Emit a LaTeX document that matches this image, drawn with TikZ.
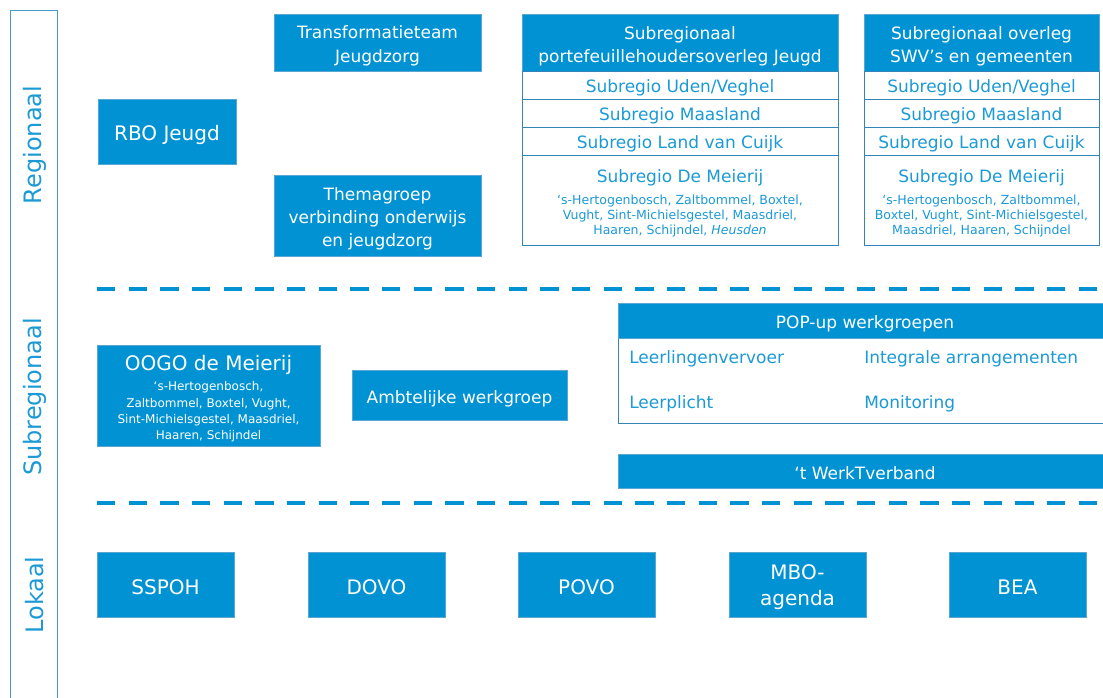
\documentclass[tikz,border=0pt]{standalone}
\usepackage{fontspec}
\setmainfont{DejaVu Sans}
\definecolor{boxblue}{HTML}{0092D3}
\definecolor{boxedge}{HTML}{5AA6D2}
\definecolor{txtblue}{HTML}{1C9AD6}
\definecolor{celledge}{HTML}{3384B8}
\definecolor{framec}{HTML}{4A98C8}
\newcommand\szTitle{\fontsize{15}{18}\selectfont}
\newcommand\szBody{\fontsize{12.75}{17.25}\selectfont}
\newcommand\szBodyT{\fontsize{12.75}{18}\selectfont}
\newcommand\szBodyC{\fontsize{12.75}{17}\selectfont}
\newcommand\szSmall{\fontsize{9.4}{11.25}\selectfont}
\newcommand\szSmallB{\fontsize{9}{12.2}\selectfont}
\newcommand\szSide{\fontsize{18}{22}\selectfont}
\newcommand\szMbo{\fontsize{15}{19.5}\selectfont}
\tikzset{
  bluebox/.style={fill=boxblue, draw=boxedge, line width=0.75pt, inner sep=0pt},
  whitecell/.style={fill=white, draw=celledge, line width=0.75pt, inner sep=0pt},
  txt/.style={inner sep=0pt, align=center},
  wtxt/.style={txt, text=white, yshift=-1.8pt},
  btxt/.style={txt, text=txtblue, yshift=-1.6pt},
  sidelabel/.style={rotate=90, text=txtblue, font=\szSide, inner sep=0pt},
  sepline/.style={draw=boxblue, line width=3pt, dash pattern=on 13.75pt off 10pt},
  dims/.style 2 args={minimum width=#1*0.75pt, minimum height=#2*0.75pt},
}
% \bluelab{name}{center}{w}{h}{font}{text}
\newcommand\bluelab[6]{%
  \node[bluebox, dims={#3}{#4}] (#1) at (#2) {};
  \node[wtxt, font=#5] (#1-t) at (#1.center) {#6};}
\newcommand\whitelab[6]{%
  \node[whitecell, dims={#3}{#4}] (#1) at (#2) {};
  \node[btxt, font=#5] (#1-t) at (#1.center) {#6};}
\begin{document}
\begin{tikzpicture}[x=0.75pt,y=-0.75pt]
\useasboundingbox (0,0) rectangle (1103,698);
\clip (0,0) rectangle (1103,698);
\fill[white] (0,0) rectangle (1103,698);
% left frame
\draw[framec, line width=0.75pt] (10,720) -- (10,11) -- (57,11) -- (57,720);
\node[sidelabel] (lreg) at (35,145) {Regionaal};
\node[sidelabel] (lsub) at (35,397) {Subregionaal};
\node[sidelabel] (llok) at (35,595) {Lokaal};
% separators
\coordinate (s1a) at (97,289); \coordinate (s1b) at (1110,289);
\coordinate (s2a) at (97,503); \coordinate (s2b) at (1110,503);
\draw[sepline] (s1a) -- (s1b);
\draw[sepline] (s2a) -- (s2b);
% regional
\bluelab{rbo}{167,132.5}{138}{65}{\szTitle}{RBO Jeugd}
\bluelab{transf}{377.5,43.5}{207}{57}{\szBodyT}{Transformatieteam\\Jeugdzorg}
\bluelab{thema}{377.5,216.5}{207}{81}{\szBodyC}{Themagroep\\verbinding onderwijs\\en jeugdzorg}
% left table
\bluelab{lhead}{680,43.5}{316}{57}{\szBody}{Subregionaal\\portefeuillehoudersoverleg Jeugd}
\whitelab{lr1}{680,86}{316}{28}{\szBody}{Subregio Uden/Veghel}
\whitelab{lr2}{680,114}{316}{28}{\szBody}{Subregio Maasland}
\whitelab{lr3}{680,142}{316}{28}{\szBody}{Subregio Land van Cuijk}
\node[whitecell, dims={316}{90}] (lr4) at (680,201) {};
\node[txt, text=txtblue, font=\szBody] (lr4t) at (680,178) {Subregio De Meierij};
\node[txt, text=txtblue, font=\szSmall] (lr4c) at (680,216) {‘s-Hertogenbosch, Zaltbommel, Boxtel,\\Vught, Sint-Michielsgestel, Maasdriel,\\Haaren, Schijndel, \textit{Heusden}};
% right table
\bluelab{rhead}{981.5,43.5}{235}{57}{\szBody}{Subregionaal overleg\\SWV’s en gemeenten}
\whitelab{rr1}{981.5,86}{235}{28}{\szBody}{Subregio Uden/Veghel}
\whitelab{rr2}{981.5,114}{235}{28}{\szBody}{Subregio Maasland}
\whitelab{rr3}{981.5,142}{235}{28}{\szBody}{Subregio Land van Cuijk}
\node[whitecell, dims={235}{90}] (rr4) at (981.5,201) {};
\node[txt, text=txtblue, font=\szBody] (rr4t) at (981.5,178) {Subregio De Meierij};
\node[txt, text=txtblue, font=\szSmall] (rr4c) at (981.5,216) {‘s-Hertogenbosch, Zaltbommel,\\Boxtel, Vught, Sint-Michielsgestel,\\Maasdriel, Haaren, Schijndel};
% subregional
\node[bluebox, dims={223}{100}] (oogo) at (208.5,396) {};
\node[txt, text=white, font=\szTitle] (oogot) at (208.5,365) {OOGO de Meierij};
\node[txt, text=white, font=\szSmallB] (oogoc) at (208.5,412) {‘s-Hertogenbosch,\\Zaltbommel, Boxtel, Vught,\\Sint-Michielsgestel, Maasdriel,\\Haaren, Schijndel};
\bluelab{ambt}{459.5,396}{215}{50}{\szBody}{Ambtelijke werkgroep}
\node[whitecell, dims={494}{85}] (popbody) at (865,381.5) {};
\bluelab{pophead}{865,321.5}{494}{35}{\szBody}{POP-up werkgroepen}
\node[txt, anchor=west, text=txtblue, font=\szBody] (pop1) at (629,359) {Leerlingenvervoer};
\node[txt, anchor=west, text=txtblue, font=\szBody] (pop2) at (864,359) {Integrale arrangementen};
\node[txt, anchor=west, text=txtblue, font=\szBody] (pop3) at (629,404) {Leerplicht};
\node[txt, anchor=west, text=txtblue, font=\szBody] (pop4) at (864,404) {Monitoring};
\bluelab{werk}{865,471}{494}{34}{\szBody}{‘t WerkTverband}
% local
\bluelab{sspoh}{165.5,584.5}{137}{65}{\szTitle}{SSPOH}
\bluelab{dovo}{376.5,584.5}{137}{65}{\szTitle}{DOVO}
\bluelab{povo}{586.5,584.5}{137}{65}{\szTitle}{POVO}
\bluelab{mbo}{797.5,584.5}{137}{65}{\szMbo}{MBO-\\agenda}
\bluelab{bea}{1017.5,584.5}{137}{65}{\szTitle}{BEA}
\end{tikzpicture}
\end{document}
